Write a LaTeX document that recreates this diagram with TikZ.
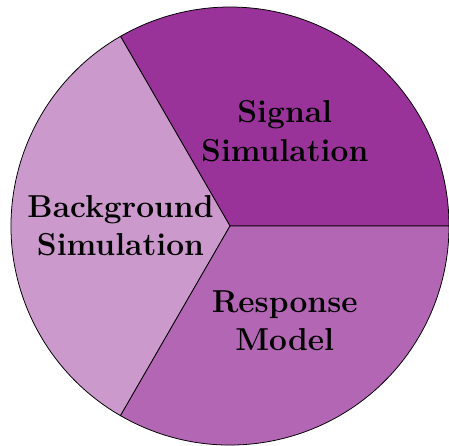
\documentclass[tikz,border=0pt]{standalone}
\usepackage{amsmath}
\usepackage{tikz}
\usetikzlibrary{positioning,calc}
\definecolor{sigviolet}{HTML}{993399}
\definecolor{respviolet}{HTML}{B366B3}
\definecolor{bkgviolet}{HTML}{CC99CC}

\begin{document}
\begin{tikzpicture}[
    sector/.style={draw=black, line width=0.5pt},
    label/.style={align=center, font=\fontsize{20.6pt}{24.8pt}\selectfont\bfseries}
  ]
  \useasboundingbox (-5.251,-5.0) rectangle (5.0,5.16);
  \coordinate (c) at (0,0);
  \filldraw[sector, fill=sigviolet] (c) -- (0:5) arc (0:120:5) -- cycle;
  \filldraw[sector, fill=bkgviolet] (c) -- (120:5) arc (120:240:5) -- cycle;
  \filldraw[sector, fill=respviolet] (c) -- (240:5) arc (240:360:5) -- cycle;
  \node[label] (signal) at (60:2.5) {Signal\\Simulation};
  \node[label] (bkg) at (180:2.5) {Background\\Simulation};
  \node[label] (resp) at (300:2.5) {Response\\Model};
\end{tikzpicture}
\end{document}
